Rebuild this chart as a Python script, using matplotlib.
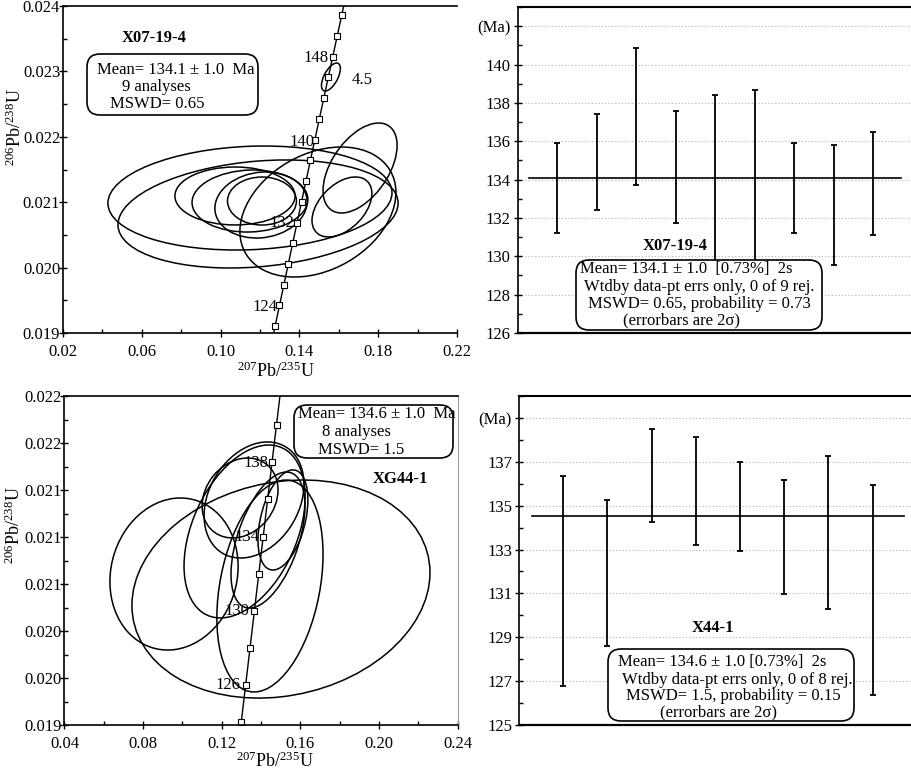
import numpy as np
import matplotlib
matplotlib.use("Agg")
import matplotlib.pyplot as plt
from matplotlib.patches import Circle, FancyBboxPatch
from matplotlib.transforms import Affine2D
from matplotlib.ticker import MultipleLocator, FormatStrFormatter

plt.rcParams.update({
    "font.family": ["Liberation Serif", "DejaVu Serif"],
    "mathtext.fontset": "custom",
    "mathtext.rm": "Liberation Serif",
    "mathtext.it": "Liberation Serif:italic",
    "font.size": 12,
})

W, H, DPI = 912, 772, 100

# concordia tick marks, every 2 Ma
CONC_AGE = [118, 120, 122, 124, 126, 128, 130, 132, 134, 136, 138,
            140, 142, 144, 146, 148, 150, 152, 154, 156]
CONC_X = [0.123234, 0.125449, 0.127668, 0.129891, 0.132119, 0.134351, 0.136588,
          0.138829, 0.141074, 0.143324, 0.145578, 0.147837, 0.150100, 0.152368,
          0.154640, 0.156916, 0.159197, 0.161483, 0.163773, 0.166067]
CONC_Y = [0.018473, 0.018789, 0.019106, 0.019422, 0.019738, 0.020054, 0.020371,
          0.020688, 0.021004, 0.021321, 0.021638, 0.021955, 0.022272, 0.022589,
          0.022907, 0.023224, 0.023542, 0.023859, 0.024177, 0.024495]

# X07-19-4 error ellipses: centre, half-widths, correlation
A_CX = [0.1149, 0.1190, 0.1073, 0.1149, 0.1205, 0.1210, 0.1494, 0.1708, 0.1616, 0.1560]
A_CY = [0.021064, 0.020820, 0.021095, 0.021018, 0.020957, 0.021018, 0.020850,
        0.021523, 0.020927, 0.022914]
A_SX = [0.0721, 0.0711, 0.0305, 0.0294, 0.0234, 0.0175, 0.0396, 0.0188, 0.0152, 0.0048]
A_SY = [0.000795, 0.000826, 0.000443, 0.000474, 0.000505, 0.000367, 0.000994,
        0.000688, 0.000459, 0.000214]
A_RHO = [0.1, 0.2, 0.0, 0.05, 0.1, 0.0, 0.3, 0.5, 0.45, 0.6]

# XG44-1 error ellipses
B_CX = [0.1501, 0.0957, 0.1445, 0.1316, 0.1364, 0.1293, 0.1511, 0.1435]
B_CY = [0.020557, 0.020685, 0.020583, 0.021047, 0.021315, 0.021332, 0.021145, 0.020974]
B_SX = [0.0758, 0.0326, 0.0270, 0.0308, 0.0254, 0.0193, 0.0127, 0.0188]
B_SY = [0.000928, 0.000647, 0.000902, 0.000736, 0.000494, 0.000340, 0.000426, 0.000579]
B_RHO = [0.15, 0.1, 0.3, 0.4, 0.27, 0.2, 0.4, 0.5]

# weighted-mean plots: spot ages and 2s errors (Ma)
AGE_A = [133.55, 134.93, 137.27, 134.66, 134.0, 134.2, 133.58, 132.68, 133.81]
ERR_A = [2.35, 2.50, 3.57, 2.94, 4.40, 4.46, 2.34, 3.12, 2.69]
MEAN_A = 134.1
AGE_B = [131.57, 131.94, 136.36, 135.66, 134.98, 133.55, 133.78, 131.14]
ERR_B = [4.80, 3.33, 2.12, 2.45, 2.03, 2.60, 3.49, 4.79]
MEAN_B = 134.55

fig = plt.figure(figsize=(W / DPI, H / DPI), dpi=DPI)
FT = fig.dpi_scale_trans


def at(px, py):
    return px / DPI, (H - py) / DPI


def axes_px(left, top, right, bottom):
    return fig.add_axes([left / W, (H - bottom) / H, (right - left) / W, (bottom - top) / H])


def ftext(px, py, s, **kw):
    kw.setdefault("ha", "left")
    kw.setdefault("va", "center")
    kw.setdefault("zorder", 6)
    fig.text(*at(px, py), s, transform=FT, **kw)


def fbox(x0, y0, x1, y1):
    bx, by = at(x0, y1)
    fig.add_artist(FancyBboxPatch((bx, by), (x1 - x0) / DPI, (y1 - y0) / DPI,
                                  boxstyle="round,pad=0,rounding_size=0.13",
                                  transform=FT, fc="white", ec="black", lw=1.2, zorder=5))


def draw_ellipses(ax, cx, cy, sx, sy, rho):
    for x, y, a, b, r in zip(cx, cy, sx, sy, rho):
        m = np.array([[a, 0, x], [r * b, b * np.sqrt(1 - r ** 2), y], [0, 0, 1]])
        ax.add_patch(Circle((0, 0), 1, transform=Affine2D(m) + ax.transData,
                            fill=False, ec="black", lw=1.1))


def concordia_axes(ax, xlim, ylim, xmaj, ymaj, yfmt):
    ax.set_xlim(*xlim)
    ax.set_ylim(*ylim)
    ax.plot(CONC_X, CONC_Y, "-", color="black", lw=1.0, marker="s", ms=4,
            mfc="white", mec="black", mew=0.8)
    ax.xaxis.set_major_locator(MultipleLocator(xmaj, offset=round(xlim[0] % xmaj, 6)))
    ax.xaxis.set_minor_locator(MultipleLocator(xmaj / 2, offset=round(xlim[0] % (xmaj / 2), 6)))
    ax.yaxis.set_major_locator(MultipleLocator(ymaj, offset=round(ylim[0] % ymaj, 7)))
    ax.yaxis.set_minor_locator(MultipleLocator(ymaj / 2, offset=round(ylim[0] % (ymaj / 2), 7)))
    ax.xaxis.set_major_formatter(FormatStrFormatter("%.2f"))
    ax.yaxis.set_major_formatter(FormatStrFormatter(yfmt))
    ax.tick_params(which="major", direction="inout", length=6, width=1, labelsize=12)
    ax.tick_params(which="minor", direction="in", length=3, width=1)
    ax.tick_params(axis="x", pad=5)
    ax.tick_params(axis="y", pad=-1)
    for s in ("left", "bottom", "top"):
        ax.spines[s].set_linewidth(1.2)


def mean_axes(ax, ages, errs, mean, ylim, ticks, labels, xmax):
    ax.set_xlim(0, xmax)
    ax.set_ylim(*ylim)
    xs = np.arange(1, len(ages) + 1)
    ax.errorbar(xs, ages, yerr=errs, fmt="none", ecolor="black", elinewidth=1.3,
                capsize=2, capthick=1.3, zorder=3)
    ax.plot([0.3, len(ages) + 0.7], [mean, mean], color="black", lw=1.2, zorder=3)
    ax.set_xticks([])
    ax.set_yticks(ticks, labels)
    ax.yaxis.set_minor_locator(MultipleLocator(1))
    ax.tick_params(which="major", direction="inout", length=6, width=1, labelsize=12, pad=2)
    ax.tick_params(which="minor", direction="in", length=3, width=1)
    ax.yaxis.grid(True, which="major", ls=(0, (1, 2)), color="#b0b0b0", lw=0.8)
    ax.set_axisbelow(True)
    ax.spines["right"].set_visible(False)
    ax.spines["top"].set_linewidth(1.5)
    ax.spines["left"].set_linewidth(1.2)
    ax.spines["bottom"].set_linewidth(1.6)


# ---- top left: X07-19-4 concordia
ax1 = axes_px(63, 6, 457, 333)
concordia_axes(ax1, (0.02, 0.22), (0.019, 0.024), 0.04, 0.001, "%.3f")
draw_ellipses(ax1, A_CX, A_CY, A_SX, A_SY, A_RHO)
ax1.spines["right"].set_visible(False)

# ---- bottom left: XG44-1 concordia
ax2 = axes_px(64.5, 396, 457.7, 725)
concordia_axes(ax2, (0.04, 0.24), (0.0194, 0.0222), 0.04, 0.0004, "%.3f")
draw_ellipses(ax2, B_CX, B_CY, B_SX, B_SY, B_RHO)
ax2.spines["right"].set_color("#9a9a9a")

# ---- top right: weighted mean X07-19-4
ax3 = axes_px(517.5, 7, 912.5, 333)
mean_axes(ax3, AGE_A, ERR_A, MEAN_A, (126, 143), list(range(126, 143, 2)),
          [str(t) for t in range(126, 141, 2)] + ["(Ma)"], 10)

# ---- bottom right: weighted mean X44-1
ax4 = axes_px(519, 396, 912, 725)
mean_axes(ax4, AGE_B, ERR_B, MEAN_B, (125, 140), list(range(125, 140, 2)),
          [str(t) for t in range(125, 138, 2)] + ["(Ma)"], 8.89)

# axis titles
iso_y = "$^{206}$Pb/$^{238}$U"
iso_x = "$^{207}$Pb/$^{235}$U"
ftext(15, 127, iso_y, ha="center", rotation=90, fontsize=13)
ftext(14, 525, iso_y, ha="center", rotation=90, fontsize=13)
ftext(276, 371, iso_x, ha="center", fontsize=13)
ftext(275, 761, iso_x, ha="center", fontsize=13)

# top-left annotations
ftext(154, 38, "X07-19-4", ha="center", fontweight="bold")
fbox(87, 54, 258, 115)
ftext(97, 70, "Mean= 134.1 ± 1.0  Ma")
ftext(122, 87, "9 analyses")
ftext(110, 104, "MSWD= 0.65")
for px, py, s in [(329, 58, "148"), (314, 142, "140"), (294, 223, "132"), (277, 307, "124")]:
    ftext(px, py, s, ha="right")
ftext(352, 80, "4.5")

# bottom-left annotations
fbox(294, 405, 453, 458)
ftext(298, 414, "Mean= 134.6 ± 1.0  Ma")
ftext(322, 432, "8 analyses")
ftext(318, 450, "MSWD= 1.5")
ftext(400, 479, "XG44-1", ha="center", fontweight="bold")
for px, py, s in [(268, 463, "138"), (259, 537, "134"), (249, 611, "130"), (240, 685, "126")]:
    ftext(px, py, s, ha="right")

# top-right annotations
ftext(675, 246, "X07-19-4", ha="center", fontweight="bold")
fbox(576, 260, 822, 330)
ftext(580, 269, "Mean= 134.1 ± 1.0  [0.73%]  2s")
ftext(584, 287, "Wtdby data-pt errs only, 0 of 9 rej.")
ftext(588, 304, "MSWD= 0.65, probability = 0.73")
ftext(623, 320, "(errorbars are 2σ)")

# bottom-right annotations
ftext(713, 628, "X44-1", ha="center", fontweight="bold")
fbox(608, 649, 854, 721)
ftext(618, 662, "Mean= 134.6 ± 1.0 [0.73%]  2s")
ftext(622, 680, "Wtdby data-pt errs only, 0 of 8 rej.")
ftext(626, 696, "MSWD= 1.5, probability = 0.15")
ftext(660, 712, "(errorbars are 2σ)")

fig.savefig("out.png", dpi=DPI)
